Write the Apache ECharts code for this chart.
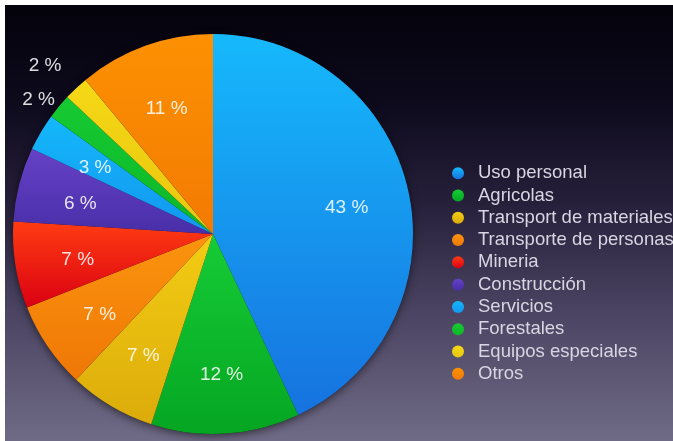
<!DOCTYPE html>
<html>
<head>
<meta charset="utf-8">
<script src="https://cdn.jsdelivr.net/npm/echarts@6/dist/echarts.min.js"></script>
<style>
  html, body { margin: 0; padding: 0; background: #ffffff; }
  #chart { position: absolute; left: 5px; top: 5px; width: 668px; height: 436px; }
</style>
</head>
<body>
<div id="chart"></div>
<script>
// Segment names (legend order = clockwise order from 12 o'clock)
const categories = [
  'Uso personal', 'Agricolas', 'Transport de materiales', 'Transporte de personas',
  'Mineria', 'Construcción', 'Servicios', 'Forestales', 'Equipos especiales', 'Otros'
];
// Share of each segment, in percent
const shares = [43, 12, 7, 7, 7, 6, 3, 2, 2, 11];

// Slice colours: lighter tone at the top, deeper tone at the bottom
const colorTop    = ['#16b9fc', '#16cc36', '#f3cd14', '#fb940e', '#ff3c12', '#6642c6', '#14b8fa', '#16ca32', '#f5d816', '#fc9102'];
const colorBottom = ['#1672df', '#05a622', '#dcab0a', '#ef7706', '#da0012', '#482ea8', '#1296f0', '#0cb628', '#e9c60e', '#f37a02'];

// Small slices whose label sits outside the pie, with their label tweaks
const outsideLabel = {
  'Forestales':         { length: 13, offset: [11, 2] },
  'Equipos especiales': { length: 33, offset: [13, 2] }
};

const CENTER = [208, 229];
const RADIUS = 200;
const FONT = '"Liberation Sans", Helvetica, Arial, sans-serif';

function grad(i) {
  return {
    type: 'linear', x: 0, y: 0, x2: 0, y2: 1,
    colorStops: [
      { offset: 0, color: colorTop[i] },
      { offset: 1, color: colorBottom[i] }
    ]
  };
}

const pieData = categories.map((name, i) => ({
  name: name,
  value: shares[i],
  itemStyle: { color: grad(i) }
}));

const baseData = categories.map((name, i) => ({ name: name, value: shares[i] }));

const labelData = categories.map((name, i) => {
  const item = { name: name, value: shares[i] };
  const o = outsideLabel[name];
  if (o) {
    item.label = { position: 'outside', offset: o.offset };
    item.labelLine = { show: false, length: o.length, length2: 0 };
  }
  return item;
});

const chart = echarts.init(document.getElementById('chart'), null, { renderer: 'canvas' });

chart.setOption({
  animation: false,
  backgroundColor: {
    type: 'linear', x: 0, y: 0, x2: 0, y2: 1,
    colorStops: [
      { offset: 0.00, color: '#04020b' },
      { offset: 0.22, color: '#0d0a1c' },
      { offset: 0.45, color: '#261f3a' },
      { offset: 0.70, color: '#4a4462' },
      { offset: 1.00, color: '#6f6a85' }
    ]
  },
  legend: {
    orient: 'vertical',
    left: 442,
    top: 152,
    icon: 'circle',
    itemWidth: 12,
    itemHeight: 12,
    itemGap: 0,
    data: categories,
    selectedMode: false,
    textStyle: {
      color: '#d8d6e2',
      fontFamily: FONT,
      fontSize: 18.5,
      lineHeight: 22.3,
      padding: [0, 0, 0, 9]
    }
  },
  series: [
    {
      // coloured slices
      type: 'pie',
      z: 2,
      center: CENTER,
      radius: [0, RADIUS],
      startAngle: 90,
      clockwise: true,
      silent: true,
      label: { show: false },
      labelLine: { show: false },
      itemStyle: { borderWidth: 0 },
      data: pieData
    },
    {
      // dark base under the slices that casts the soft rim shadow
      type: 'pie',
      z: 1,
      center: CENTER,
      radius: [0, RADIUS],
      startAngle: 90,
      silent: true,
      legendHoverLink: false,
      label: { show: false },
      labelLine: { show: false },
      itemStyle: {
        color: '#20141c',
        borderWidth: 0,
        shadowBlur: 8,
        shadowOffsetY: 2,
        shadowColor: 'rgba(0,0,0,0.55)'
      },
      data: baseData
    },
    {
      // percentage labels, placed at two thirds of the radius
      type: 'pie',
      z: 3,
      center: CENTER,
      radius: [68, RADIUS],
      startAngle: 90,
      silent: true,
      legendHoverLink: false,
      avoidLabelOverlap: false,
      itemStyle: { color: 'rgba(0,0,0,0)', borderWidth: 0 },
      label: {
        show: true,
        position: 'inside',
        offset: [0, 4],
        formatter: '{c} %',
        color: 'rgba(255,255,255,0.86)',
        fontFamily: FONT,
        fontSize: 19
      },
      labelLine: { show: false },
      data: labelData
    }
  ]
});
</script>
</body>
</html>
